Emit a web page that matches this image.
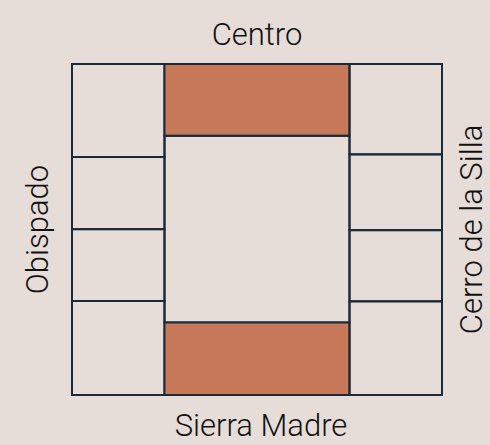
<!DOCTYPE html>
<html>
<head>
<meta charset="utf-8">
<script src="https://cdn.jsdelivr.net/npm/d3@7"></script>
<style>
  html, body { margin: 0; padding: 0; background: #e6dcd8; }
  text { font-family: Roboto, "Liberation Sans", Arial, sans-serif; font-weight: 300; fill: #111; }
</style>
</head>
<body>
<div id="chart"></div>
<script>
// columns of the grid and their relative widths
const columns = ["Obispado", "Centro", "Cerro de la Silla"];
const columnWidths = [1, 2, 1];

// cell sizes (share of the column height), top to bottom
const obispadoCells = [28.1, 21.8, 21.7, 28.4];
const centroCells = [21.7, 56.4, 21.9];
const cerroCells = [27.3, 22.9, 21.5, 28.3];

// highlighted cells in the centre column (top = Centro, bottom = Sierra Madre)
const centroHighlight = [true, false, true];

const sideLabels = { top: "Centro", bottom: "Sierra Madre", left: "Obispado", right: "Cerro de la Silla" };

const width = 490;
const height = 445;
const margin = { top: 64, right: 48, bottom: 50, left: 72 };

const svg = d3
  .select("#chart")
  .append("svg")
  .attr("width", width)
  .attr("height", height);

// x positions from cumulative widths
const totalW = d3.sum(columnWidths);
const x = d3
  .scaleLinear()
  .domain([0, totalW])
  .range([margin.left, width - margin.right]);

const y = d3
  .scaleLinear()
  .domain([0, 100])
  .range([margin.top, height - margin.bottom]);

function stack(values) {
  let acc = 0;
  return values.map((v) => {
    const d = { y0: acc, y1: acc + v };
    acc += v;
    return d;
  });
}

const colData = [obispadoCells, centroCells, cerroCells];
let xAcc = 0;
colData.forEach((cells, i) => {
  const x0 = xAcc;
  const x1 = xAcc + columnWidths[i];
  xAcc = x1;
  const g = svg.append("g");
  g.selectAll("rect")
    .data(stack(cells))
    .join("rect")
    .attr("x", x(x0))
    .attr("width", x(x1) - x(x0))
    .attr("y", (d) => y(d.y0))
    .attr("height", (d) => y(d.y1) - y(d.y0))
    .attr("fill", (d, j) => (i === 1 && centroHighlight[j] ? "#c8795a" : "none"))
    .attr("stroke", "#1b2b3a")
    .attr("stroke-width", 2);
});

// side labels
const fontSize = 31;
svg.append("text")
  .attr("x", (x(0) + x(totalW)) / 2)
  .attr("y", 45)
  .attr("text-anchor", "middle")
  .style("font-size", fontSize + "px")
  .text(sideLabels.top);

svg.append("text")
  .attr("x", (x(0) + x(totalW)) / 2 + 4)
  .attr("y", 436)
  .attr("text-anchor", "middle")
  .style("font-size", fontSize + "px")
  .text(sideLabels.bottom);

svg.append("text")
  .attr("transform", `translate(48,${(y(0) + y(100)) / 2}) rotate(-90)`)
  .attr("text-anchor", "middle")
  .style("font-size", fontSize + "px")
  .text(sideLabels.left);

svg.append("text")
  .attr("transform", `translate(482,${(y(0) + y(100)) / 2}) rotate(-90)`)
  .attr("text-anchor", "middle")
  .style("font-size", fontSize + "px")
  .text(sideLabels.right);
</script>
</body>
</html>
